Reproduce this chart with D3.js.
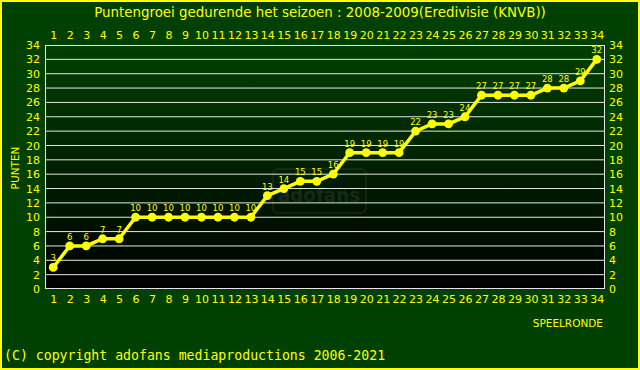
<!DOCTYPE html>
<html><head><meta charset="utf-8">
<script src="https://cdn.jsdelivr.net/npm/d3@7"></script>
<style>body{margin:0;background:#004000}svg{display:block}</style>
</head><body>
<script>
const rounds = d3.range(1, 35);
const points = [3,6,6,7,7,10,10,10,10,10,10,10,10,13,14,15,15,16,19,19,19,19,22,23,23,24,27,27,27,27,28,28,29,32];
const yTicks = d3.range(0, 35, 2);
const title = "Puntengroei gedurende het seizoen : 2008-2009(Eredivisie (KNVB))";

const W = 640, H = 370;
const L = 45, R = 605, T = 45, B = 289;
const svg = d3.select("body").append("svg").attr("width", W).attr("height", H);
const defs = svg.append("defs");
const g = defs.append("linearGradient").attr("id","bg").attr("x1",0).attr("y1",0).attr("x2",0).attr("y2",1);
g.append("stop").attr("offset","0%").attr("stop-color","#004000");
g.append("stop").attr("offset","100%").attr("stop-color","#000000");

svg.append("rect").attr("x",1).attr("y",1).attr("width",W-2).attr("height",H-2)
  .attr("fill","#004000").attr("stroke","#ffff00").attr("stroke-width",2);

const x = d3.scalePoint().domain(rounds).range([L, R]).padding(0.5);
const y = d3.scaleLinear().domain([0, 34]).range([B, T]);

svg.append("rect").attr("x",L).attr("y",T).attr("width",R-L).attr("height",B-T).attr("fill","url(#bg)");

// watermark
const wm = svg.append("g").attr("opacity",0.12);
wm.append("rect").attr("x",273).attr("y",169).attr("width",93).attr("height",44).attr("rx",5)
  .attr("fill","none").attr("stroke","#aaa").attr("stroke-width",1.5);
wm.append("text").attr("x",278).attr("y",202)
  .attr("textLength",82).attr("lengthAdjust","spacingAndGlyphs")
  .attr("font-family","DejaVu Sans").attr("font-weight","bold").attr("font-size",19).attr("fill","#aaa").text("adofans");

// gridlines
svg.append("g").selectAll("line").data(yTicks.filter(d=>d>0&&d<34)).join("line")
  .attr("x1",L).attr("x2",R).attr("y1",d=>y(d)).attr("y2",d=>y(d))
  .attr("stroke","#e6e6e6").attr("stroke-width",1);
svg.append("rect").attr("x",L+0.5).attr("y",T+0.5).attr("width",R-L-1).attr("height",B-T-1)
  .attr("fill","none").attr("stroke","#e6e6e6").attr("stroke-width",1);

const font = "DejaVu Sans";
function styleAxis(sel){
  sel.selectAll(".domain").remove();
  sel.selectAll(".tick line").remove();
  sel.selectAll("text").attr("fill","#ffff00").attr("font-family",font).attr("font-size",11);
}
svg.append("g").attr("transform",`translate(0,${B+2})`).call(d3.axisBottom(x).tickSize(0).tickPadding(4)).call(styleAxis);
svg.append("g").attr("transform",`translate(0,${T-2})`).call(d3.axisTop(x).tickSize(0).tickPadding(4)).call(styleAxis);
svg.append("g").attr("transform",`translate(${L-2},0)`).call(d3.axisLeft(y).tickValues(yTicks).tickSize(0).tickPadding(3)).call(styleAxis);
svg.append("g").attr("transform",`translate(${R+2},0)`).call(d3.axisRight(y).tickValues(yTicks).tickSize(0).tickPadding(2)).call(styleAxis);

// line
const line = d3.line().x((d,i)=>x(rounds[i])).y(d=>y(d));
svg.append("path").datum(points).attr("d",line).attr("fill","none")
  .attr("stroke","#ffff00").attr("stroke-width",3.5);
svg.append("g").selectAll("circle").data(points).join("circle")
  .attr("cx",(d,i)=>x(rounds[i])).attr("cy",d=>y(d)).attr("r",4.4).attr("fill","#ffff00");
svg.append("g").selectAll("text").data(points).join("text")
  .attr("x",(d,i)=>x(rounds[i])).attr("y",d=>y(d)-6).attr("text-anchor","middle")
  .attr("font-family",font).attr("font-size",8.5).attr("fill","#ffff00").text(d=>d);

// titles
svg.append("text").attr("x",320).attr("y",17).attr("text-anchor","middle")
  .attr("font-family",font).attr("font-size",13.4).attr("fill","#ffff00").text(title);
svg.append("text").attr("transform","translate(19,168) rotate(-90)").attr("text-anchor","middle")
  .attr("font-family",font).attr("font-size",10.5).attr("fill","#ffff00").text("PUNTEN");
svg.append("text").attr("x",603).attr("y",327).attr("text-anchor","end")
  .attr("font-family",font).attr("font-size",10.5).attr("fill","#ffff00").text("SPEELRONDE");
svg.append("text").attr("x",4).attr("y",360)
  .attr("font-family","DejaVu Sans Mono").attr("font-size",13.2).attr("fill","#ffff00").text("(C) copyright adofans mediaproductions 2006-2021");
</script>
</body></html>
